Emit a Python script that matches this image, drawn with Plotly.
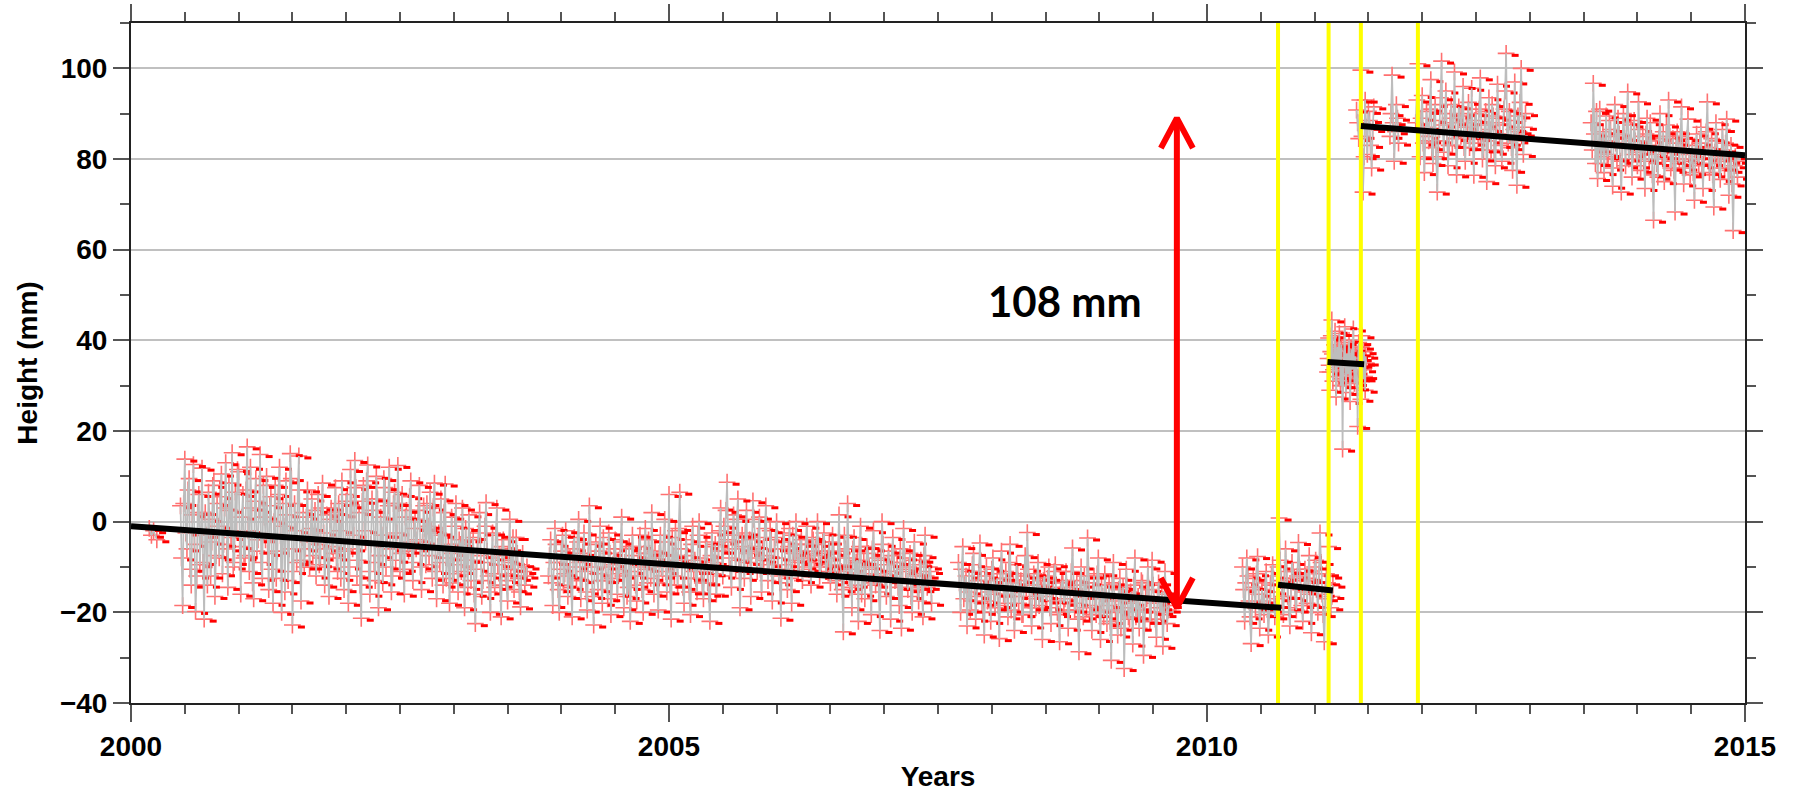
import plotly.graph_objects as go

# ---------------- GPS station vertical position (mm) ----------------
# Each block has a first epoch (decimal year) and a sampling interval (yr).
# "_h" lists are heights at start + k*step, "_hm" lists are the heights at the
# epochs half-way between them.
STEP = 0.02

early_t = [2000.17, 2000.19, 2000.21, 2000.24]
early_h = [-1.5, -3.0, -2.0, -4.0]

seg1_start = 2000.46
seg1_h = [
    3.5, -18.5, 13.8, -6.0, 9.5, -14.0, 12.6, -19.8, 2.0, -9.5,
    11.8, -21.5, -3.0, 6.5, -12.0, 8.0, -16.5, 4.0, -8.0, 10.5,
    -5.0, 13.0, -14.5, 2.5, 15.2, -9.0, -2.0, 11.0, -16.0, 6.0,
    -7.5, 16.5, -11.0, 3.0, -17.0, 9.5, -4.0, 14.8, -12.5, 1.0,
    10.0, -15.0, 5.5, -18.0, 8.0, -6.5, 12.0, -20.0, -1.0, 9.0,
    -13.0, 15.0, -22.8, 4.0, -9.0, 14.5, -17.5, 2.0, -6.0, 7.0,
    -10.0, 5.0, -3.5, -12.0, 6.0, -8.0, 8.5, -14.0, 1.5, -16.5,
    3.0, -7.0, 7.5, -11.0, -2.0, 9.0, -15.0, 4.5, -18.0, 11.5,
    -6.0, 13.5, -12.0, 2.0, -21.3, 8.0, -4.5, 12.5, -16.0, 5.0,
    -9.0, 10.0, -19.0, 1.0, -13.5, 7.5, -3.0, 12.0, -15.5, 4.0,
    -8.5, 12.4, -11.0, 6.0, -16.0, 2.5, -6.5, 9.0, -13.0, 0.5,
    -4.0, 8.0, -15.0, 3.5, -9.5, -1.0, 6.5, -12.5, 8.5, -17.0,
    -2.5, 5.0, -14.0, 8.3, -8.0, -18.0, 1.0, -11.5, 4.0, -15.5,
    -5.0, 3.0, -19.0, -8.5, 1.5, -13.0, -3.5, -22.5, -6.0, 2.0,
    -16.5, -9.0, 4.2, -12.0, -20.0, -2.5, -14.5, 3.0, -7.5, -21.0,
    -4.0, -11.5, -17.5, 0.5, -9.0, -15.0, -3.5, -12.5, -18.8, -7.0,
    -14.0, -10.0,
]
seg1_hm = [
    -8.0, 4.0, -2.5, 7.0, -10.5, 1.5, -5.0, -12.0, 6.0, -3.0,
    -9.0, 2.0, -14.0, 0.5, -4.5, 9.0, -7.5, -1.0, 5.5, -11.5,
    3.0, -6.0, 8.5, -3.5, -10.0, 6.5, 11.5, -5.5, 1.0, -8.0,
    7.0, -2.0, 12.0, -13.5, 4.5, -6.5, 2.5, -9.0, 8.0, -4.0,
    -7.0, 3.5, -10.5, 0.0, -12.5, 6.0, -3.0, 4.0, -15.5, 1.5,
    -6.0, 9.5, -11.0, -2.0, 7.0, -8.5, -3.5, -10.0, 1.0, -4.5,
    -1.5, -7.5, 2.5, -5.0, -9.5, 3.0, -2.5, -6.0, -10.0, 0.5,
    -5.5, 2.0, -8.0, 4.0, -12.5, 1.5, -6.5, 6.0, -10.0, 3.5,
    -3.0, 7.5, -8.5, -14.0, 4.5, -2.0, 9.0, -11.0, -5.0, 2.5,
    -13.0, 5.0, -7.5, -3.0, 9.5, -10.0, 3.5, -6.0, -12.0, 6.5,
    -2.5, 4.0, -7.0, -10.5, 1.0, -4.5, 5.5, -9.0, -1.5, -6.0,
    2.5, -10.0, -4.5, -1.5, 4.0, -7.5, -2.0, 3.0, -11.0, -5.5,
    -9.0, -3.0, 2.0, -12.5, -5.0, -7.0, -13.5, -1.0, -9.5, -4.0,
    -11.0, -6.0, -1.5, -14.5, -4.0, -8.5, -16.0, -10.5, -2.5, -7.5,
    -13.0, -1.0, -6.5, -15.5, -8.0, -11.5, -3.0, -9.5, -14.0, -5.5,
    -8.5, -13.0, -6.0, -10.5, -3.5, -12.0, -7.0, -15.5, -9.5, -11.0,
    -12.0,
]

seg2_start = 2003.88
seg2_h = [
    -12.0, -4.0, -18.5, -1.5, -9.0, -20.0, -6.5, -14.0, -2.0, -16.5,
    -8.0, -21.0, -3.5, -12.5, 0.5, -17.0, -7.0, -11.0, -19.5, 3.5,
    -10.0, -22.8, -4.5, -15.0, -1.0, -18.0, -8.5, -13.0, -2.5, -20.5,
    -9.5, -4.0, -16.0, -11.5, 1.0, -19.0, -6.0, -14.5, -22.0, -3.0,
    -12.0, -17.5, -5.5, -10.0, -20.0, -1.5, -13.5, -7.0, 2.0, -16.0,
    -9.0, -19.5, -3.0, -12.0, 0.5, -15.5, 6.0, -21.5, -7.5, -2.0,
    -14.0, 6.5, -10.0, -18.0, -4.0, -12.5, -20.5, -1.0, -8.5, -15.5,
    0.0, -11.0, -17.0, -5.5, -13.5, -22.0, -2.5, -9.0, -16.0, -6.5,
    3.0, -12.0, -4.5, 8.7, -8.0, -14.5, 1.5, -10.5, 5.0, -19.0,
    -3.0, -12.5, 2.5, -7.0, -16.5, 4.6, -5.5, -11.0, 1.0, -15.5,
    -8.5, 3.5, -13.0, -2.0, -17.5, -6.0, 0.0, -12.0, -21.3, -4.5,
    -9.5, -15.0, -1.5, -18.0, -7.0, 0.0, -11.5, -5.0, -13.0, -8.0,
    -1.0, -10.5, -14.0, -4.0, -7.5, 0.0, -12.0, -6.5, -2.5, -11.0,
    -8.0, -13.5, -3.0, -9.5, -16.0, 1.5, -11.0, -24.3, -6.0, 4.0,
    -14.5, -19.0, -3.5, -9.0, -22.0, -1.0, -12.5, -17.0, -5.5, -10.0,
    -20.5, -2.0, -14.0, -8.0, -24.0, 0.0, -11.5, -16.5, -6.5, -21.5,
    -3.5, -13.0, -9.0, -18.5, -23.5, -1.5, -10.5, -15.0, -7.0, -20.0,
    -4.5, -12.0, -17.5, -8.5, -21.0, -3.0, -14.5, -10.0, -18.0,
]
seg2_hm = [
    -7.5, -13.5, -9.0, -5.0, -15.0, -10.5, -3.0, -11.5, -8.0, -12.0,
    -14.5, -6.0, -10.0, -4.5, -9.0, -13.0, -2.5, -15.5, -7.5, -5.0,
    -16.5, -8.0, -11.5, -6.5, -13.0, -3.5, -10.0, -17.0, -7.0, -12.5,
    -6.0, -10.5, -8.5, -4.5, -12.0, -9.0, -16.5, -5.5, -11.0, -7.5,
    -14.0, -9.5, -3.0, -15.0, -7.0, -10.5, -4.0, -12.5, -8.0, -6.5,
    -13.5, -7.0, -10.0, -4.5, -11.0, -9.5, -14.0, -3.5, -12.0, -8.5,
    -1.5, -6.0, -14.5, -9.0, -7.5, -15.5, -5.0, -11.0, -12.5, -3.0,
    -8.0, -13.5, -10.0, -4.5, -16.0, -7.5, -11.5, -5.0, -9.5, -2.0,
    -6.5, -1.0, 2.5, -4.0, -10.5, -3.0, -6.0, 0.5, -8.5, -11.0,
    -5.5, -2.5, -9.0, -4.0, -6.5, 0.5, -8.0, -3.5, -10.5, -6.0,
    -1.5, -7.5, -9.5, -4.0, -11.0, -3.5, -8.0, -13.5, -6.0, -2.5,
    -10.5, -5.5, -12.5, -3.0, -8.5, -6.5, -9.0, -4.0, -10.0, -5.0,
    -6.5, -9.0, -3.5, -8.5, -5.0, -7.0, -10.0, -4.5, -6.5, -9.5,
    -4.5, -10.0, -7.0, -13.0, -6.5, -9.5, -15.0, -3.0, -12.0, -8.0,
    -10.5, -6.0, -14.0, -8.5, -5.5, -16.0, -9.0, -11.5, -7.0, -13.5,
    -6.0, -10.5, -12.0, -15.5, -8.5, -5.0, -13.0, -9.5, -11.0, -7.5,
    -9.0, -12.5, -14.5, -6.0, -11.0, -8.0, -13.5, -10.0, -16.5, -8.5,
    -11.5, -14.5, -9.5, -15.0, -7.5, -12.0, -13.0, -11.0,
]

seg3_start = 2007.69
seg3_h = [
    -9.0, -20.0, -5.5, -14.0, -23.0, -11.0, -17.5, -7.0, -21.5, -13.0,
    -4.7, -18.0, -25.0, -10.0, -15.5, -22.0, -8.0, -19.0, -12.5, -25.8,
    -6.5, -16.0, -11.0, -21.0, -5.0, -14.5, -24.0, -9.5, -18.0, -13.0,
    -20.5, -7.5, -2.4, -16.5, -23.0, -11.5, -19.0, -9.0, -14.0, -26.0,
    -12.0, -17.5, -10.0, -22.5, -15.0, -9.5, -20.0, -26.5, -13.5, -18.0,
    -11.0, -23.5, -16.0, -5.8, -19.5, -13.0, -28.7, -10.0, -21.0, -15.5,
    -3.6, -18.5, -24.0, -12.0, -20.5, -8.0, -26.0, -16.5, -11.5, -22.5,
    -14.0, -30.6, -9.0, -19.5, -25.0, -12.5, -17.0, -32.4, -10.5, -21.0,
    -15.5, -27.0, -8.0, -19.0, -23.5, -13.0, -29.5, -16.5, -10.0, -22.0,
    -8.5, -18.0, -25.5, -13.5, -20.0, -27.5, -11.0, -22.5, -18.5,
]
seg3_hm = [
    -13.5, -10.5, -17.0, -12.0, -15.5, -19.5, -9.5, -14.0, -16.5, -11.0,
    -14.5, -20.0, -12.0, -17.5, -13.0, -10.5, -16.0, -14.0, -18.5, -11.5,
    -12.5, -18.0, -15.0, -9.0, -19.5, -13.5, -16.5, -11.5, -14.5, -20.5,
    -12.0, -15.5, -10.5, -19.0, -14.0, -17.0, -12.5, -18.5, -15.0, -13.0,
    -16.5, -12.5, -19.0, -14.5, -11.0, -17.5, -20.5, -15.5, -13.0, -17.0,
    -14.5, -19.5, -11.0, -15.0, -18.0, -21.5, -14.0, -16.5, -12.0, -19.0,
    -13.5, -20.5, -15.5, -17.0, -11.5, -19.5, -14.0, -21.0, -16.0, -18.5,
    -22.0, -13.5, -17.5, -20.0, -15.0, -23.5, -14.5, -19.0, -16.0, -21.5,
    -18.0, -14.0, -21.0, -16.5, -19.5, -13.5, -22.0, -17.0, -15.0, -20.0,
    -14.0, -21.5, -17.5, -19.0, -15.5, -20.5, -16.0, -19.5,
]

seg4_start = 2010.33
seg4_h = [
    -10.0, -22.0, -8.0, -17.5, -26.9, -12.5, -19.0, -7.7, -23.5, -15.0,
    -20.5, -11.0, -25.0, -14.0, -9.5, -21.0, -17.0, 0.8, -13.0, -20.5,
    -6.0, -16.5, -23.0, -9.0, -12.5, -19.5, -4.6, -15.0, -22.0, -10.5,
    -18.0, -7.5, -24.5, -13.0, -8.5, -20.0, -2.5, -16.0, -26.5, -11.5,
    -5.5, -19.0, -14.0,
]
seg4_hm = [
    -15.0, -13.5, -12.0, -21.0, -18.0, -14.5, -11.5, -16.0, -19.0, -17.5,
    -13.5, -18.0, -19.5, -12.0, -15.5, -18.5, -10.0, -8.5, -16.5, -12.5,
    -11.0, -19.0, -14.5, -11.0, -17.0, -12.0, -10.5, -18.5, -15.5, -13.0,
    -12.5, -16.0, -18.5, -10.0, -14.5, -11.5, -9.0, -20.5, -17.0, -13.5,
    -12.0, -16.5,
]

seg5_start = 2011.12
seg5_step = 0.01
seg5_h = [
    33.0, 40.5, 29.0, 37.5, 44.5, 31.0, 36.0, 42.0, 27.5, 38.5,
    34.0, 41.5, 30.0, 39.0, 16.0, 35.5, 43.0, 28.5, 37.0, 32.5,
    40.0, 26.5, 38.0, 33.5, 42.5, 30.5, 36.5, 29.5, 21.0, 39.5,
    34.5, 27.0, 41.0, 31.5, 37.5, 29.0, 35.0,
]
seg5_hm = [
    36.0, 34.5, 33.0, 41.0, 37.0, 33.5, 39.0, 35.0, 32.0, 36.5,
    38.0, 35.5, 34.0, 31.5, 30.0, 39.5, 36.0, 33.0, 35.0, 37.5,
    32.5, 31.0, 35.5, 38.0, 36.0, 33.0, 34.5, 31.5, 37.0, 36.0,
    32.0, 38.5, 35.0, 33.5, 32.0, 36.5,
]

seg6_start = 2011.39
seg6_h = [90.8, 84.5, 99.6, 72.7, 93.0, 81.0, 88.5, 78.0, 91.5]
seg6_hm = [88.0, 93.0, 85.0, 80.5, 87.0, 90.5, 83.0, 86.5]

seg7_start = 2011.70
seg7_h = [85.0, 98.5, 79.5, 92.0, 83.5]
seg7_hm = [90.0, 88.0, 86.0, 89.0]

seg8_start = 2011.94
seg8_h = [
    88.0, 101.0, 80.5, 94.0, 77.0, 90.5, 84.0, 97.5, 79.0, 92.0,
    72.7, 86.5, 101.6, 81.5, 95.0, 78.5, 89.0, 83.0, 99.2, 76.5,
    91.5, 85.0, 96.0, 79.5, 88.0, 82.5, 95.6, 76.4, 90.0, 84.5,
    97.9, 80.0, 87.5, 75.0, 93.5, 82.0, 89.5, 78.5, 96.5, 85.5,
    79.5, 91.0, 103.3, 83.5, 88.5, 77.5, 97.0, 74.2, 86.0, 100.0,
    81.0, 90.0,
]
seg8_hm = [
    93.0, 86.5, 89.0, 83.5, 85.0, 87.0, 91.0, 82.5, 88.5, 80.5,
    84.0, 93.5, 87.5, 90.0, 85.5, 83.0, 92.0, 88.0, 84.5, 86.0,
    89.5, 90.0, 82.5, 87.0, 92.5, 85.0, 83.5, 88.5, 86.0, 91.0,
    85.5, 82.0, 90.5, 84.0, 86.5, 92.0, 81.5, 88.0, 89.0, 83.0,
    87.5, 95.0, 85.0, 90.5, 82.5, 86.5, 84.0, 89.5, 92.5, 85.5,
    87.0,
]

seg9_start = 2013.57
seg9_h = [
    88.0, 96.7, 79.0, 75.7, 91.0, 83.5, 77.0, 89.5, 81.0, 86.5,
    74.0, 92.0, 80.0, 85.5, 72.7, 90.0, 78.5, 94.8, 83.0, 76.0,
    88.5, 81.5, 92.6, 77.5, 85.0, 73.5, 89.0, 79.5, 84.0, 66.5,
    82.5, 76.0, 90.0, 80.5, 75.0, 87.5, 93.0, 78.0, 84.5, 68.3,
    86.0, 79.0, 91.5, 74.5, 82.0, 88.8, 76.5, 83.0, 70.9, 85.5,
    79.0, 87.0, 73.5, 81.5, 92.6, 77.0, 84.5, 69.4, 88.0, 80.0,
    75.5, 86.5, 78.0, 88.8, 72.0, 83.0, 64.2, 80.5, 76.0,
]
seg9_hm = [
    82.0, 85.5, 90.5, 82.0, 79.0, 86.0, 84.0, 80.5, 88.5, 78.0,
    85.0, 83.5, 89.0, 79.5, 82.5, 84.5, 88.0, 80.0, 87.5, 81.0,
    84.0, 78.5, 86.5, 82.0, 80.0, 85.5, 83.0, 88.0, 76.5, 81.0,
    79.0, 84.5, 82.0, 86.0, 80.5, 81.5, 85.0, 79.5, 77.5, 83.5,
    82.5, 85.0, 80.0, 78.0, 84.5, 81.0, 79.5, 77.0, 82.0, 80.5,
    83.5, 78.5, 80.0, 86.0, 82.5, 79.0, 76.5, 81.5, 84.0, 78.0,
    80.5, 82.0, 83.5, 79.5, 77.5, 74.5, 78.5, 79.5,
]

# Linear fits per interval between equipment changes (start/end epoch, start/end height)
trend_t = [[2000.0, 2010.69], [2010.66, 2011.17], [2011.12, 2011.46], [2011.43, 2015.0]]
trend_h = [[-1.0, -19.0], [-13.9, -15.2], [35.2, 34.7], [87.3, 80.8]]

# Epochs of equipment changes
change_years = [2010.66, 2011.13, 2011.43, 2011.96]

# Offset annotation
offset_mm = 108
offset_x = 2009.72
offset_base = -19.0
offset_label = "108 mm"
label_x, label_y = 2008.68, 48.6

# ---------------- axes geometry ----------------
X_RANGE = [2000, 2015]
Y_RANGE = [-40, 110]
W, H = 1795, 792
M = dict(l=131, r=50, t=23, b=89)
plot_w = W - M["l"] - M["r"]
plot_h = H - M["t"] - M["b"]
px_per_yr = plot_w / (X_RANGE[1] - X_RANGE[0])
px_per_mm = plot_h / (Y_RANGE[1] - Y_RANGE[0])


def block(start, step, h, hm):
    """Merge the two interleaved height lists of one block into time order."""
    pairs = [(start + step * i, v) for i, v in enumerate(h)]
    pairs += [(start + step * (i + 0.5), v) for i, v in enumerate(hm)]
    pairs.sort()
    return [p[0] for p in pairs], [p[1] for p in pairs]


blocks = [
    (early_t, early_h),
    block(seg1_start, STEP, seg1_h, seg1_hm),
    block(seg2_start, STEP, seg2_h, seg2_hm),
    block(seg3_start, STEP, seg3_h, seg3_hm),
    block(seg4_start, STEP, seg4_h, seg4_hm),
    block(seg5_start, seg5_step, seg5_h, seg5_hm),
    block(seg6_start, STEP, seg6_h, seg6_hm),
    block(seg7_start, STEP, seg7_h, seg7_hm),
    block(seg8_start, STEP, seg8_h, seg8_hm),
    block(seg9_start, STEP, seg9_h, seg9_hm),
]

line_x, line_y, pts_x, pts_y = [], [], [], []
for t, h in blocks:
    line_x += list(t) + [None]
    line_y += list(h) + [None]
    pts_x += list(t)
    pts_y += list(h)

# small solid tick drawn at the right end of each cross marker
dash_dx = 9 / px_per_yr
dash_dy = 2 / px_per_mm
dash_x = [x + dash_dx for x in pts_x]
dash_y = [y - dash_dy for y in pts_y]

fig = go.Figure()

fig.add_trace(go.Scatter(
    x=pts_x, y=pts_y, mode="markers",
    marker=dict(symbol="cross-thin-open", size=12, color="#ff7070",
                line=dict(color="#ff7070", width=1.6)),
    hoverinfo="skip", showlegend=False))

fig.add_trace(go.Scatter(
    x=dash_x, y=dash_y, mode="markers",
    marker=dict(symbol="line-ew", size=5, color="#ff0000",
                line=dict(color="#ff0000", width=3)),
    hoverinfo="skip", showlegend=False))

fig.add_trace(go.Scatter(
    x=line_x, y=line_y, mode="lines",
    line=dict(color="#bdbdbd", width=1.7),
    hoverinfo="skip", showlegend=False))

# equipment change markers
vx, vy = [], []
for yr in change_years:
    vx += [yr, yr, None]
    vy += [Y_RANGE[0], Y_RANGE[1], None]
fig.add_trace(go.Scatter(
    x=vx, y=vy, mode="lines", line=dict(color="#ffff00", width=4),
    hoverinfo="skip", showlegend=False))

# fitted trends
tx, ty = [], []
for t, h in zip(trend_t, trend_h):
    tx += t + [None]
    ty += h + [None]
fig.add_trace(go.Scatter(
    x=tx, y=ty, mode="lines", line=dict(color="#000000", width=6),
    hoverinfo="skip", showlegend=False))

# double-headed offset arrow with open chevron heads
top = offset_base + offset_mm
hx = 16 / px_per_yr
hy = 30 / px_per_mm
ax = [offset_x, offset_x, None,
      offset_x - hx, offset_x, offset_x + hx, None,
      offset_x - hx, offset_x, offset_x + hx]
ay = [offset_base, top, None,
      top - hy, top, top - hy, None,
      offset_base + hy, offset_base, offset_base + hy]
fig.add_trace(go.Scatter(
    x=ax, y=ay, mode="lines", line=dict(color="#ff0000", width=6),
    hoverinfo="skip", showlegend=False))

fig.add_annotation(
    x=label_x, y=label_y, text=offset_label, showarrow=False,
    font=dict(family="Lato, Open Sans, sans-serif", size=42, color="black", weight="bold"))

tick_font = dict(family="Liberation Sans, Arial, sans-serif", size=28, color="black", weight="bold")

fig.update_xaxes(
    range=X_RANGE, tick0=2000, dtick=5, tickformat="d", automargin=False,
    ticks="outside", ticklen=17, tickwidth=2, tickcolor="#555555",
    minor=dict(dtick=0.5, tick0=2000, ticks="outside", ticklen=9, tickwidth=2,
               tickcolor="#555555", showgrid=False),
    showline=True, linecolor="#222222", linewidth=2, mirror="allticks",
    showgrid=False, zeroline=False, tickfont=tick_font,
    title=dict(text="Years", font=tick_font, standoff=12))

fig.update_yaxes(
    range=Y_RANGE, tick0=0, dtick=20, automargin=False,
    ticks="outside", ticklen=16, tickwidth=2, tickcolor="#555555",
    minor=dict(dtick=10, tick0=0, ticks="outside", ticklen=9, tickwidth=2,
               tickcolor="#555555", showgrid=False),
    showline=True, linecolor="#222222", linewidth=2, mirror="allticks",
    showgrid=True, gridcolor="#c0c0c0", gridwidth=2, zeroline=False, tickfont=tick_font,
    title=dict(text="Height (mm)", font=tick_font, standoff=14))

fig.update_layout(
    width=W, height=H, autosize=False, margin=M,
    plot_bgcolor="white", paper_bgcolor="white", showlegend=False)

fig.write_html("out.html")
